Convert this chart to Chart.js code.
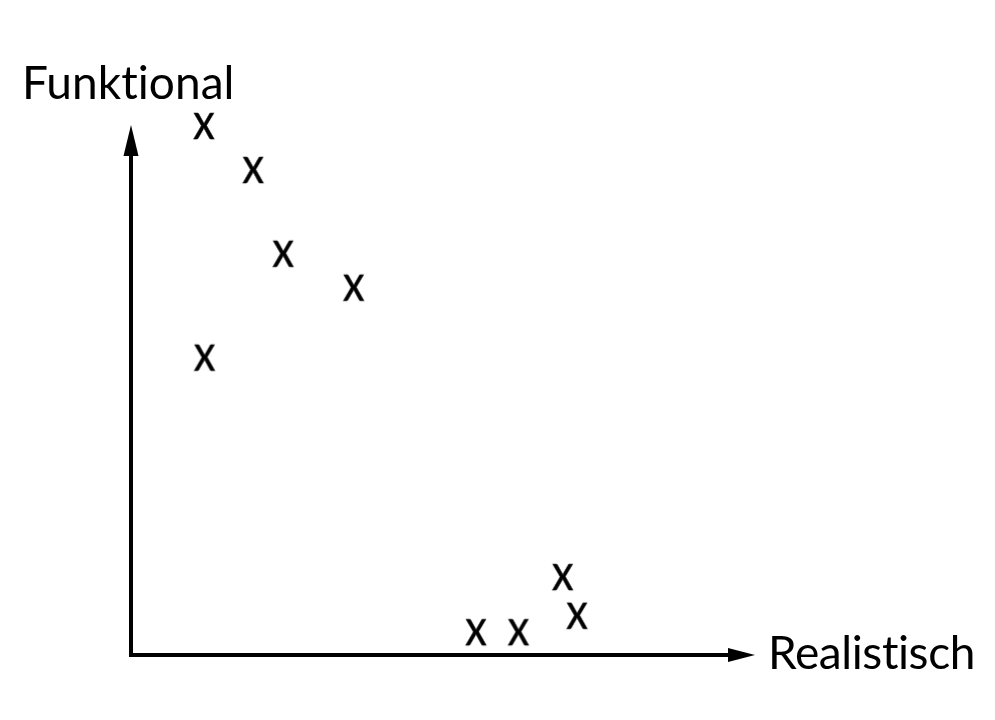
<!DOCTYPE html>
<html>
<head>
<meta charset="utf-8">
<script src="https://cdn.jsdelivr.net/npm/chart.js@4"></script>
<style>
  html, body { margin: 0; padding: 0; background: #ffffff; }
  #wrap { width: 995px; height: 720px; }
</style>
</head>
<body>
<div id="wrap"><canvas id="c" width="995" height="720"></canvas></div>
<script>
// ---- data ----
const xValues = [11.7, 19.6, 24.4, 35.7, 11.8, 69.2, 71.5, 55.3, 62.1];
const yValues = [99.8, 91.5, 75.7, 69.3, 56.1, 14.7, 7.4, 4.3, 4.3];
const xAxisLabel = 'Realistisch';
const yAxisLabel = 'Funktional';
const markerGlyph = 'x';

const FONT = 'Lato, "Open Sans", sans-serif';

// marker image: the glyph "x" centered on a small canvas
function makeMarker() {
  const c = document.createElement('canvas');
  c.width = 34; c.height = 34;
  const g = c.getContext('2d');
  g.font = '47px ' + FONT;
  g.fillStyle = '#000';
  g.strokeStyle = '#000';
  g.lineWidth = 0.4;
  g.textAlign = 'center';
  g.textBaseline = 'alphabetic';
  const m = g.measureText(markerGlyph);
  const asc = m.actualBoundingBoxAscent, desc = m.actualBoundingBoxDescent;
  g.translate(c.width / 2, c.height / 2);
  g.scale(0.93, 1.08);
  const baseY = (asc - desc) / 2;
  g.fillText(markerGlyph, 0, baseY);
  g.strokeText(markerGlyph, 0, baseY);
  return c;
}

const axesPlugin = {
  id: 'arrowAxes',
  afterDraw(chart) {
    const ctx = chart.ctx;
    const xs = chart.scales.x, ys = chart.scales.y;
    const x0 = xs.getPixelForValue(xs.min);
    const x1 = xs.getPixelForValue(xs.max);
    const y0 = ys.getPixelForValue(ys.min);
    const y1 = ys.getPixelForValue(ys.max);
    ctx.save();
    ctx.strokeStyle = '#000';
    ctx.fillStyle = '#000';
    ctx.lineWidth = 4;
    ctx.beginPath();
    ctx.moveTo(x0, y0 + 2);
    ctx.lineTo(x0, y1 + 25);
    ctx.moveTo(x0 - 2, y0);
    ctx.lineTo(x1 - 22, y0);
    ctx.stroke();
    // y arrowhead
    ctx.beginPath();
    ctx.moveTo(x0, y1);
    ctx.lineTo(x0 + 7.5, y1 + 31);
    ctx.lineTo(x0 - 7.5, y1 + 31);
    ctx.closePath();
    ctx.fill();
    // x arrowhead
    ctx.beginPath();
    ctx.moveTo(x1, y0);
    ctx.lineTo(x1 - 27, y0 - 7);
    ctx.lineTo(x1 - 27, y0 + 7);
    ctx.closePath();
    ctx.fill();
    // axis titles
    ctx.font = '46px ' + FONT;
    ctx.textAlign = 'left';
    ctx.textBaseline = 'alphabetic';
    ctx.letterSpacing = '0.05px';
    ctx.fillText(yAxisLabel, x0 - 109, y1 - 26);
    ctx.letterSpacing = '-0.4px';
    ctx.fillText(xAxisLabel, x1 + 13, y0 + 14);
    ctx.restore();
  }
};

const points = xValues.map((x, i) => ({ x: x, y: yValues[i] }));

new Chart(document.getElementById('c'), {
  type: 'scatter',
  data: {
    datasets: [{
      data: points,
      pointStyle: makeMarker(),
      pointRadius: 12,
      pointHoverRadius: 12,
      clip: false
    }]
  },
  options: {
    responsive: false,
    animation: false,
    events: [],
    layout: { padding: { left: 131, top: 125, right: 240, bottom: 65 } },
    plugins: { legend: { display: false }, tooltip: { enabled: false } },
    scales: {
      x: { type: 'linear', min: 0, max: 100, display: false },
      y: { type: 'linear', min: 0, max: 100, display: false }
    }
  },
  plugins: [axesPlugin]
});
</script>
</body>
</html>
